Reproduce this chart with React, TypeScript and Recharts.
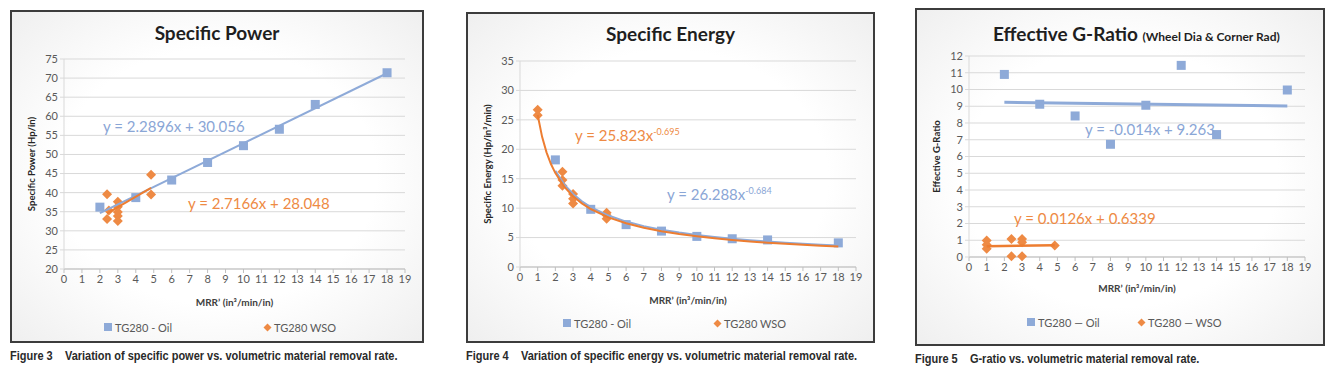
import React from 'react'
import { ScatterChart, Scatter, XAxis, YAxis, CartesianGrid } from 'recharts'

const BLUE = '#8eaad8'
const BLUE_TEXT = '#8aa6d6'
const ORANGE = '#ee8a44'
const ORANGE_LINE = '#ed7d31'
const TICK_GRAY = '#595959'
const FONT = 'Lato, "Open Sans", sans-serif'

const X_TICKS = [0, 1, 2, 3, 4, 5, 6, 7, 8, 9, 10, 11, 12, 13, 14, 15, 16, 17, 18, 19]

// Figure 3 - specific power
const powerOilX = [2, 4, 6, 8, 10, 12, 14, 18]
const powerOilY = [36.2, 38.7, 43.3, 47.9, 52.3, 56.6, 63.1, 71.4]
const powerWsoX = [2.4, 2.4, 2.5, 3, 3, 3, 3, 3, 4.85, 4.85]
const powerWsoY = [39.6, 33.1, 35.3, 37.6, 36.3, 34.9, 33.9, 32.6, 44.7, 39.5]
const powerTicks = [20, 25, 30, 35, 40, 45, 50, 55, 60, 65, 70, 75]

// Figure 4 - specific energy
const energyOilX = [2, 4, 6, 8, 10, 12, 14, 18]
const energyOilY = [18.2, 9.8, 7.2, 6.1, 5.2, 4.8, 4.6, 4.1]
const energyWsoX = [1, 1, 2.4, 2.4, 2.4, 3, 3, 3, 4.9, 4.9, 4.9]
const energyWsoY = [26.7, 25.8, 16.2, 14.8, 13.8, 12.4, 11.6, 10.8, 9.2, 8.8, 8.2]
const energyTicks = [0, 5, 10, 15, 20, 25, 30, 35]
const curveX = [1, 1.25, 1.5, 1.75, 2, 2.5, 3, 3.5, 4, 5, 6, 7, 8, 9, 10, 11, 12, 13, 14, 15, 16, 17, 18]

// Figure 5 - G-ratio
const gOilX = [2, 4, 6, 8, 10, 12, 14, 18]
const gOilY = [10.9, 9.12, 8.42, 6.73, 9.06, 11.44, 7.31, 9.97]
const gWsoX = [1, 1, 1, 2.4, 2.4, 3, 3, 3, 4.85]
const gWsoY = [0.98, 0.73, 0.5, 1.07, 0.04, 1.07, 0.88, 0.04, 0.69]
const gTicks = [0, 1, 2, 3, 4, 5, 6, 7, 8, 9, 10, 11, 12]

type Pt = { x: number; y: number }
const zip = (xs: number[], ys: number[]): Pt[] => xs.map((x, i) => ({ x, y: ys[i] }))
const linear = (m: number, b: number, x0: number, x1: number): Pt[] => [
  { x: x0, y: m * x0 + b },
  { x: x1, y: m * x1 + b },
]
const power = (a: number, k: number, xs: number[]): Pt[] => xs.map((x) => ({ x, y: a * Math.pow(x, k) }))

const squareShape = (p: any) => (
  <rect x={p.cx - 4.5} y={p.cy - 4.5} width={9} height={9} fill={BLUE} />
)
const diamondShape = (p: any) => (
  <path
    d={`M${p.cx},${p.cy - 5}L${p.cx + 5},${p.cy}L${p.cx},${p.cy + 5}L${p.cx - 5},${p.cy}Z`}
    fill={ORANGE}
  />
)
const noShape = () => <g />

interface Series {
  data: Pt[]
  kind: 'square' | 'diamond' | 'trend'
  color?: string
  width?: number
}

interface PanelProps {
  left: number
  top: number
  width: number
  height: number
  margin: { top: number; right: number; bottom: number }
  xAxisHeight: number
  yDomain: [number, number]
  yTicks: number[]
  yLabel: string
  series: Series[]
}

function Panel({ left, top, width, height, margin, xAxisHeight, yDomain, yTicks, yLabel, series }: PanelProps) {
  return (
    <div
      style={{
        position: 'absolute',
        left,
        top,
        width,
        height,
        boxSizing: 'border-box',
        border: '2px solid #3c3c3c',
        background: 'radial-gradient(ellipse at center, #ffffff 55%, #efefef 100%)',
      }}
    >
      <ScatterChart
        width={width - 4}
        height={height - 4}
        margin={{ top: margin.top, right: margin.right, bottom: margin.bottom, left: 0 }}
        style={{ fontFamily: FONT }}
      >
        <CartesianGrid horizontal vertical={false} stroke="#d9d9d9" />
        <XAxis
          type="number"
          dataKey="x"
          domain={[0, 19]}
          ticks={X_TICKS}
          interval={0}
          height={xAxisHeight}
          tickSize={4}
          stroke="#bfbfbf"
          tick={{ fontSize: 11, fill: TICK_GRAY }}
          label={{
            value: 'MRR\u2019 (in\u00b3/min/in)',
            position: 'insideBottom',
            offset: 1,
            style: { fontSize: 10, fontWeight: 700, fill: '#404040' },
          }}
        />
        <YAxis
          type="number"
          dataKey="y"
          domain={yDomain}
          ticks={yTicks}
          interval={0}
          width={52}
          tickSize={4}
          axisLine={{ stroke: '#d9d9d9' }}
          tickLine={{ stroke: '#d9d9d9' }}
          tick={{ fontSize: 11, fill: TICK_GRAY }}
          label={{
            value: yLabel,
            angle: -90,
            position: 'insideLeft',
            offset: 20,
            style: { textAnchor: 'middle', fontSize: 9.5, fontWeight: 700, fill: '#262626' },
          }}
        />
        {series.map((s, i) =>
          s.kind === 'trend' ? (
            <Scatter
              key={i}
              data={s.data}
              line={{ stroke: s.color, strokeWidth: s.width ?? 2 }}
              lineType="joint"
              shape={noShape}
              isAnimationActive={false}
            />
          ) : (
            <Scatter
              key={i}
              data={s.data}
              shape={s.kind === 'square' ? squareShape : diamondShape}
              isAnimationActive={false}
            />
          )
        )}
      </ScatterChart>
    </div>
  )
}

function Legend({ left, top, oil, wso, gap }: { left: number; top: number; oil: string; wso: string; gap: number }) {
  return (
    <div
      style={{
        position: 'absolute',
        left,
        top,
        display: 'flex',
        alignItems: 'center',
        fontFamily: FONT,
        fontSize: 11,
        color: TICK_GRAY,
        whiteSpace: 'nowrap',
      }}
    >
      <svg width={9} height={9} style={{ marginRight: 2 }}>
        <rect width={8} height={8} fill={BLUE} />
      </svg>
      <span style={{ width: gap }}>{oil}</span>
      <svg width={9} height={9} style={{ marginRight: 2 }}>
        <path d="M4.5,0.5L8.5,4.5L4.5,8.5L0.5,4.5Z" fill={ORANGE} />
      </svg>
      <span>{wso}</span>
    </div>
  )
}

const textAt = (left: number, top: number, color: string, size: number, weight = 400): React.CSSProperties => ({
  position: 'absolute',
  left,
  top,
  color,
  fontSize: size,
  fontWeight: weight,
  fontFamily: FONT,
  whiteSpace: 'nowrap',
  lineHeight: 1,
})

// narrow bold caption; no condensed face installed, so squeeze Liberation Sans
const captionStyle = (left: number, top: number): React.CSSProperties => ({
  position: 'absolute',
  left,
  top,
  fontFamily: '"Liberation Sans Narrow", "Liberation Sans", Arial, sans-serif',
  fontWeight: 700,
  fontSize: 12,
  color: '#2a2a2a',
  whiteSpace: 'pre',
  lineHeight: 1,
  transform: 'scaleX(0.915)',
  transformOrigin: 'left center',
})

export default function App() {
  return (
    <div
      style={{
        position: 'absolute',
        left: 0,
        top: 0,
        width: 1338,
        height: 376,
        background: '#ffffff',
        overflow: 'hidden',
      }}
    >
      {/* Figure 3 */}
      <Panel
        left={10}
        top={10}
        width={414}
        height={333}
        margin={{ top: 47, right: 17, bottom: 34 }}
        xAxisHeight={38}
        yDomain={[20, 75]}
        yTicks={powerTicks}
        yLabel="Specific Power (Hp/in)"
        series={[
          { data: zip(powerOilX, powerOilY), kind: 'square' },
          { data: zip(powerWsoX, powerWsoY), kind: 'diamond' },
          { data: linear(2.2896, 30.056, 2, 18), kind: 'trend', color: BLUE },
          { data: linear(2.7166, 28.048, 2.4, 4.85), kind: 'trend', color: ORANGE_LINE },
        ]}
      />
      <div style={{ ...textAt(0, 23, '#1f1f1f', 19, 700), width: 434, textAlign: 'center' }}>Specific Power</div>
      <div style={textAt(103, 119, BLUE_TEXT, 15)}>y = 2.2896x + 30.056</div>
      <div style={textAt(188, 196, ORANGE, 15)}>y = 2.7166x + 28.048</div>
      <Legend left={104} top={321} oil="TG280 - Oil" wso="TG280 WSO" gap={148} />
      <div style={captionStyle(10, 350)}>{'Figure 3    Variation of specific power vs. volumetric material removal rate.'}</div>

      {/* Figure 4 */}
      <Panel
        left={466}
        top={12}
        width={409}
        height={331}
        margin={{ top: 47, right: 17, bottom: 36 }}
        xAxisHeight={38}
        yDomain={[0, 35]}
        yTicks={energyTicks}
        yLabel={'Specific Energy (Hp/in\u00b3/min)'}
        series={[
          { data: zip(energyOilX, energyOilY), kind: 'square' },
          { data: zip(energyWsoX, energyWsoY), kind: 'diamond' },
          { data: power(26.288, -0.684, curveX.filter((x) => x >= 2)), kind: 'trend', color: BLUE },
          { data: power(25.823, -0.695, curveX), kind: 'trend', color: ORANGE_LINE },
        ]}
      />
      <div style={{ ...textAt(466, 24, '#1f1f1f', 19, 700), width: 409, textAlign: 'center' }}>Specific Energy</div>
      <div style={textAt(575, 127, ORANGE, 15)}>
        y = 25.823x<sup style={{ fontSize: 9, verticalAlign: 6 }}>-0.695</sup>
      </div>
      <div style={textAt(667, 186, BLUE_TEXT, 15)}>
        y = 26.288x<sup style={{ fontSize: 9, verticalAlign: 6 }}>-0.684</sup>
      </div>
      <Legend left={563} top={317} oil="TG280 - Oil" wso="TG280 WSO" gap={139} />
      <div style={captionStyle(466, 350)}>{'Figure 4    Variation of specific energy vs. volumetric material removal rate.'}</div>

      {/* Figure 5 */}
      <Panel
        left={915}
        top={8}
        width={410}
        height={338}
        margin={{ top: 46, right: 18, bottom: 51 }}
        xAxisHeight={36}
        yDomain={[0, 12]}
        yTicks={gTicks}
        yLabel="Effective G-Ratio"
        series={[
          { data: zip(gOilX, gOilY), kind: 'square' },
          { data: zip(gWsoX, gWsoY), kind: 'diamond' },
          { data: linear(-0.014, 9.263, 2, 18), kind: 'trend', color: BLUE, width: 3 },
          { data: linear(0.0126, 0.6339, 1, 4.85), kind: 'trend', color: ORANGE_LINE, width: 2.5 },
        ]}
      />
      <div style={textAt(993, 24, '#1f1f1f', 19, 700)}>
        Effective G-Ratio <span style={{ fontSize: 12 }}>(Wheel Dia &amp; Corner Rad)</span>
      </div>
      <div style={textAt(1085, 122, BLUE_TEXT, 15)}>y = -0.014x + 9.263</div>
      <div style={textAt(1014, 211, ORANGE, 15)}>y = 0.0126x + 0.6339</div>
      <Legend left={1027} top={316} oil={'TG280 \u2014 Oil'} wso={'TG280 \u2014 WSO'} gap={99} />
      <div style={captionStyle(915, 353)}>{'Figure 5    G-ratio vs. volumetric material removal rate.'}</div>
    </div>
  )
}
